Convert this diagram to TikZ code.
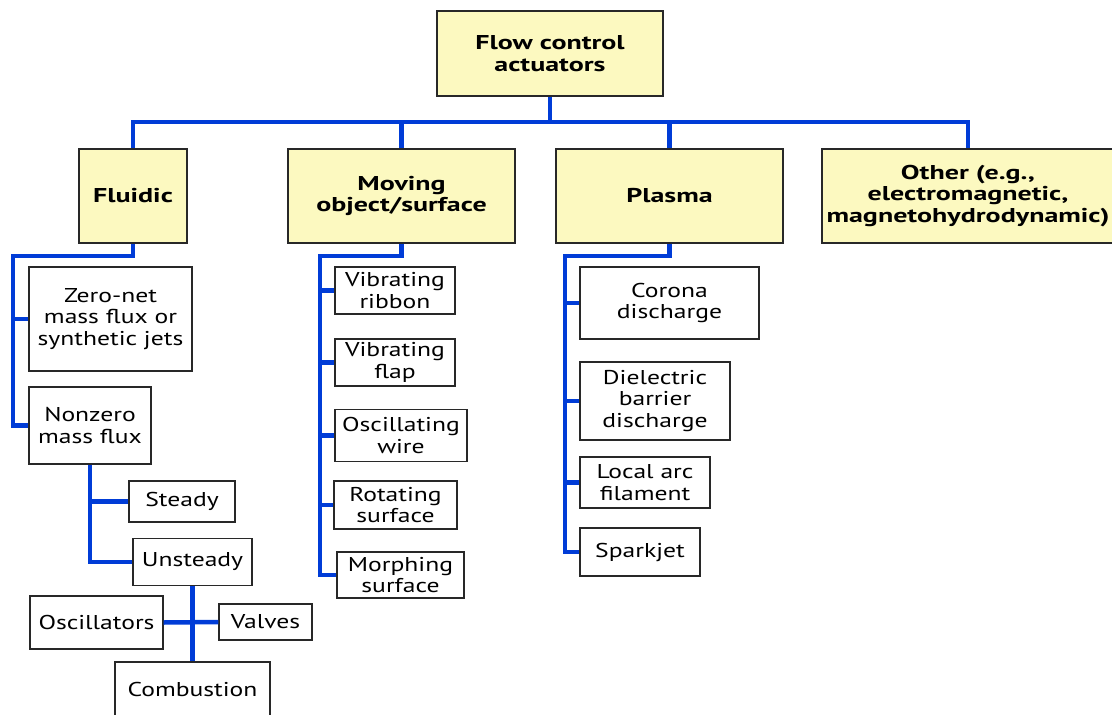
\documentclass[tikz,border=0pt]{standalone}
\usepackage{fontspec}
\setmainfont{PT Sans}[FakeStretch=1.28,BoldFeatures={FakeStretch=1.40}]
\definecolor{boxyellow}{RGB}{252,249,192}
\definecolor{linkblue}{RGB}{0,60,215}
\definecolor{edgegray}{RGB}{40,40,40}
\begin{document}
\begin{tikzpicture}[x=1pt,y=-1pt,
  basebox/.style={draw=edgegray,line width=1.3pt,inner sep=0pt,align=center,
    font=\fontsize{20}{21.5}\selectfont},
  ybox/.style={basebox,fill=boxyellow,font=\fontsize{20}{21.5}\selectfont\bfseries},
  wbox/.style={basebox,fill=white},
  conn/.style={draw=linkblue,line width=4.5pt,line cap=butt,line join=miter}]
\useasboundingbox (0,0) rectangle (1112,715);
% level 1
\node[ybox,minimum width=226,minimum height=85] (root) at (550,53.5) {Flow control\\actuators};
\node[ybox,minimum width=108,minimum height=94] (fluidic) at (133,196) {Fluidic};
\node[ybox,minimum width=227,minimum height=94] (moving) at (401.5,196) {Moving\\object/surface};
\node[ybox,minimum width=227,minimum height=94] (plasma) at (669.5,196) {Plasma};
\node[ybox,minimum width=292,minimum height=94] (other) at (968,196) {Other (e.g.,\\electromagnetic,\\magnetohydrodynamic)};
% fluidic
\node[wbox,minimum width=163,minimum height=104] (zeronet) at (110.5,319) {Zero-net\\mass flux or\\synthetic jets};
\node[wbox,minimum width=122,minimum height=77] (nonzero) at (90,425.5) {Nonzero\\mass flux};
\node[wbox,minimum width=106,minimum height=41] (steady) at (182,501.5) {Steady};
\node[wbox,minimum width=119,minimum height=47] (unsteady) at (192.5,562) {Unsteady};
\node[wbox,minimum width=133,minimum height=53] (osc) at (96.5,622.5) {Oscillators};
\node[wbox,minimum width=93,minimum height=36] (valves) at (265.5,622) {Valves};
\node[wbox,minimum width=155,minimum height=54] (comb) at (192.5,689) {Combustion};
% moving
\node[wbox,minimum width=120,minimum height=47] (ribbon) at (395,290.5) {Vibrating\\ribbon};
\node[wbox,minimum width=120,minimum height=47] (flap) at (395,362.5) {Vibrating\\flap};
\node[wbox,minimum width=132,minimum height=52] (wire) at (401,435.5) {Oscillating\\wire};
\node[wbox,minimum width=123,minimum height=48] (rot) at (395.5,505) {Rotating\\surface};
\node[wbox,minimum width=127,minimum height=46] (morph) at (400.5,575) {Morphing\\surface};
% plasma
\node[wbox,minimum width=179,minimum height=72] (corona) at (669.5,303) {Corona\\discharge};
\node[wbox,minimum width=150,minimum height=78] (dbd) at (655,401) {Dielectric\\barrier\\discharge};
\node[wbox,minimum width=130,minimum height=51] (arc) at (645,482.5) {Local arc\\filament};
\node[wbox,minimum width=120,minimum height=48] (spark) at (640,552) {Sparkjet};
% coordinates
\coordinate (bus) at (550,122);
\coordinate (fl) at (13,256);
\coordinate (mv) at (320,256);
\coordinate (pl) at (565,256);
% connectors level 1
\draw[conn] (root.south) -- (root.south |- bus);
\draw[conn] (fluidic.north) |- (bus) -| (other.north);
\draw[conn] (moving.north) -- (moving.north |- bus);
\draw[conn] (plasma.north) -- (plasma.north |- bus);
% fluidic
\draw[conn] (fluidic.south) |- (fl) |- (nonzero.west);
\draw[conn] (fl |- zeronet.west) -- (zeronet.west);
\draw[conn] (nonzero.south) |- (unsteady.west);
\draw[conn] (nonzero.south |- steady.west) -- (steady.west);
\draw[conn] (unsteady.south) -- (comb.north);
\draw[conn] (osc.east) -- (valves.west);
% moving
\draw[conn] (moving.south) |- (mv) |- (morph.west);
\draw[conn] (mv |- ribbon.west) -- (ribbon.west);
\draw[conn] (mv |- flap.west) -- (flap.west);
\draw[conn] (mv |- wire.west) -- (wire.west);
\draw[conn] (mv |- rot.west) -- (rot.west);
% plasma
\draw[conn] (plasma.south) |- (pl) |- (spark.west);
\draw[conn] (pl |- corona.west) -- (corona.west);
\draw[conn] (pl |- dbd.west) -- (dbd.west);
\draw[conn] (pl |- arc.west) -- (arc.west);
\end{tikzpicture}
\end{document}
